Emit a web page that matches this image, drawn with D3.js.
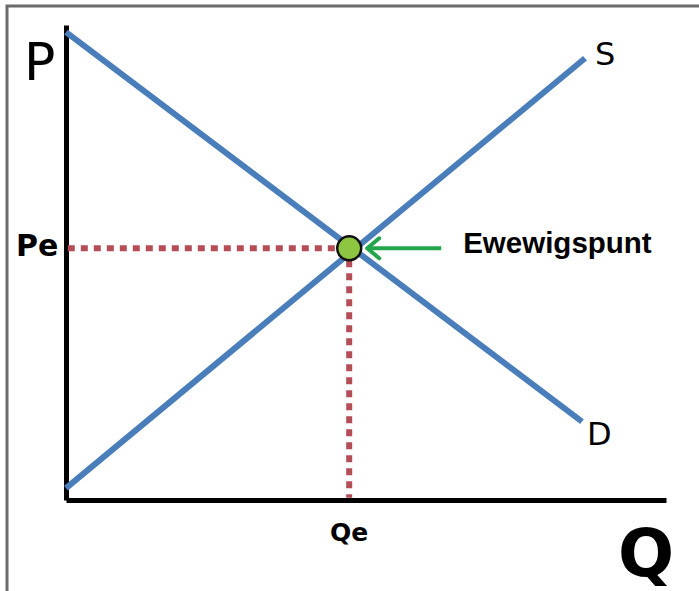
<!DOCTYPE html>
<html lang="en">
<head>
    <meta charset="UTF-8">
    <title>Ewewigspunt</title>
    <script src="https://d3js.org/d3.v7.min.js"></script>
    <style>
        body { margin: 0; background: #fff; }
        svg { display: block; }
    </style>
</head>
<body>
    <div id="my_dataviz"></div>

    <script>
        // curve end points (quantity, price) in chart units 0-100
        var demand = [{q: 0, p: 98.5}, {q: 86, p: 16.5}];
        var supply = [{q: 0, p: 2.5}, {q: 86.5, p: 93}];
        var equilibrium = {q: 47.2, p: 53};
        var curveLabels = ["S", "D"];
        var axisLabels = ["P", "Q"];
        var eqLabels = ["Pe", "Qe"];
        var eqNote = "Ewewigspunt";

        var width = 699, height = 591;

        var svg = d3.select("#my_dataviz")
            .append("svg")
            .attr("width", width)
            .attr("height", height);

        // grey frame (top and left edge)
        svg.append("path")
            .attr("d", "M7,591 V6 H699")
            .attr("fill", "none")
            .attr("stroke", "#6b6b6b")
            .attr("stroke-width", 3);

        var x = d3.scaleLinear().domain([0, 100]).range([66, 666]);
        var y = d3.scaleLinear().domain([0, 100]).range([500, 25]);

        // axes - just thick black lines
        svg.append("g")
            .attr("transform", "translate(" + x(0) + ",0)")
            .call(d3.axisLeft(y).tickValues([]).tickSizeOuter(0))
            .select(".domain")
            .attr("stroke", "#000")
            .attr("stroke-width", 5);

        svg.append("g")
            .attr("transform", "translate(0," + y(0) + ")")
            .call(d3.axisBottom(x).tickValues([]).tickSizeOuter(0))
            .select(".domain")
            .attr("stroke", "#000")
            .attr("stroke-width", 5);

        var line = d3.line()
            .x(function(d) { return x(d.q); })
            .y(function(d) { return y(d.p); });

        // dotted guides to the equilibrium
        var dotted = "#b54d57";
        svg.append("path")
            .datum([{q: 0.3, p: equilibrium.p}, {q: equilibrium.q - 2, p: equilibrium.p}])
            .attr("d", line)
            .attr("stroke", dotted)
            .attr("stroke-width", 6)
            .attr("stroke-dasharray", "7,6")
            .attr("fill", "none");

        svg.append("path")
            .datum([{q: equilibrium.q, p: equilibrium.p - 2.5}, {q: equilibrium.q, p: 0.5}])
            .attr("d", line)
            .attr("stroke", dotted)
            .attr("stroke-width", 6)
            .attr("stroke-dasharray", "7,6")
            .attr("fill", "none");

        // supply and demand
        [supply, demand].forEach(function(c) {
            svg.append("path")
                .datum(c)
                .attr("d", line)
                .attr("stroke", "#4a7ebb")
                .attr("stroke-width", 6)
                .attr("stroke-linecap", "butt")
                .attr("fill", "none");
        });

        // equilibrium dot
        svg.append("circle")
            .attr("cx", x(equilibrium.q))
            .attr("cy", y(equilibrium.p))
            .attr("r", 12)
            .attr("fill", "#8dc641")
            .attr("stroke", "#111")
            .attr("stroke-width", 2.5);

        // green arrow pointing at the dot
        var ex = x(equilibrium.q), ey = y(equilibrium.p);
        svg.append("line")
            .attr("x1", ex + 92).attr("y1", ey)
            .attr("x2", ex + 18).attr("y2", ey)
            .attr("stroke", "#23a64b")
            .attr("stroke-width", 4);
        svg.append("path")
            .attr("d", "M" + (ex + 30) + "," + (ey - 10) + " L" + (ex + 18) + "," + ey + " L" + (ex + 30) + "," + (ey + 10))
            .attr("fill", "none")
            .attr("stroke", "#23a64b")
            .attr("stroke-width", 4)
            .attr("stroke-linecap", "round")
            .attr("stroke-linejoin", "round");

        svg.append("text")
            .attr("x", ex + 114)
            .attr("y", ey + 5)
            .attr("font-family", "Liberation Sans, Arial, sans-serif")
            .attr("font-weight", "bold")
            .attr("font-size", 29.5)
            .attr("fill", "#000")
            .text(eqNote);

        // hand-drawn style labels
        var lab = "DejaVu Sans, sans-serif";

        svg.append("text")
            .attr("x", 24).attr("y", 80)
            .attr("font-family", lab).attr("font-size", 52)
            .text(axisLabels[0]);

        svg.append("text")
            .attr("x", 618).attr("y", 576)
            .attr("font-family", lab).attr("font-weight", "bold").attr("font-size", 66)
            .text(axisLabels[1]);

        svg.append("text")
            .attr("x", 16).attr("y", ey + 8)
            .attr("font-family", lab).attr("font-weight", "bold").attr("font-size", 30)
            .text(eqLabels[0]);

        svg.append("text")
            .attr("x", ex).attr("y", 541)
            .attr("text-anchor", "middle")
            .attr("font-family", lab).attr("font-weight", "bold").attr("font-size", 25)
            .text(eqLabels[1]);

        var sEnd = supply[supply.length - 1], dEnd = demand[demand.length - 1];
        svg.append("text")
            .attr("x", x(sEnd.q) + 10).attr("y", y(sEnd.p) + 7)
            .attr("font-family", lab).attr("font-size", 32)
            .text(curveLabels[0]);

        svg.append("text")
            .attr("x", x(dEnd.q) + 5).attr("y", y(dEnd.p) + 23)
            .attr("font-family", lab).attr("font-size", 32)
            .text(curveLabels[1]);
    </script>
</body>
</html>
